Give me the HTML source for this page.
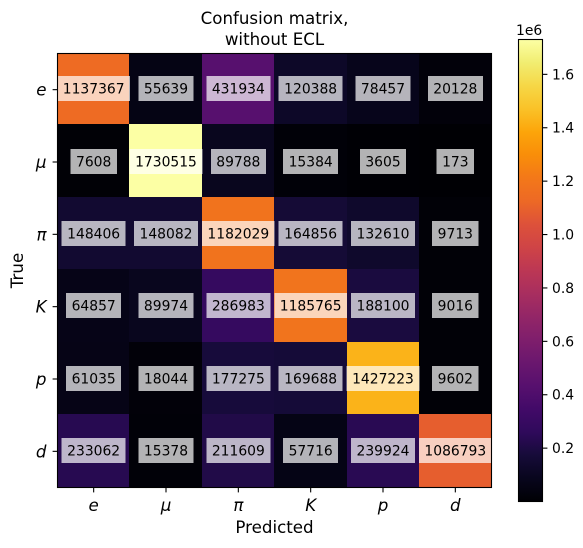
<!DOCTYPE html>
<html>
<head>
<meta charset="utf-8">
<style>
html,body{margin:0;padding:0;background:#fff;width:583px;height:548px;overflow:hidden}
svg{display:block}
text{font-family:"DejaVu Sans",sans-serif;fill:#000}
.it{font-style:italic}
</style>
</head>
<body>
<svg id="chart" xmlns="http://www.w3.org/2000/svg" width="583" height="548" viewBox="0 0 583 548">
  <text x="274.5" y="24" font-size="16.67" text-anchor="middle">Confusion matrix,</text>
  <text x="274.5" y="45" font-size="16.67" text-anchor="middle">without ECL</text>
  <text x="274.5" y="533" font-size="16.67" text-anchor="middle">Predicted</text>
  <text transform="translate(23,270.5) rotate(-90)" font-size="16.67" text-anchor="middle">True</text>
  <text x="516" y="35" font-size="13.89">1e6</text>
  <g id="cells"></g>
  <g id="labels"></g>
  <rect x="57.5" y="53.5" width="434" height="434" fill="none" stroke="#000" stroke-width="1.1"></rect>
  <g id="ticks"></g>
  <defs>
    <linearGradient id="cbarGrad" x1="0" y1="1" x2="0" y2="0"></linearGradient>
  </defs>
  <rect x="518.5" y="39.5" width="24" height="462" fill="url(#cbarGrad)" stroke="#000" stroke-width="1.1"></rect>
  <g id="cbarTicks"></g>
</svg>
<script>
const predictedCategories = ["e", "μ", "π", "K", "p", "d"];
const trueCategories = ["e", "μ", "π", "K", "p", "d"];
const rowE = [1137367, 55639, 431934, 120388, 78457, 20128];
const rowMu = [7608, 1730515, 89788, 15384, 3605, 173];
const rowPi = [148406, 148082, 1182029, 164856, 132610, 9713];
const rowK = [64857, 89974, 286983, 1185765, 188100, 9016];
const rowP = [61035, 18044, 177275, 169688, 1427223, 9602];
const rowD = [233062, 15378, 211609, 57716, 239924, 1086793];
const colorbarTicks = [0.2, 0.4, 0.6, 0.8, 1.0, 1.2, 1.4, 1.6];
const infernoColors = ["#000004", "#08061d", "#160b39", "#2f0a5b", "#420a68", "#57106e", "#6a176e", "#7f1e6c", "#932667", "#a82e5f", "#bc3754", "#cf4446", "#dd513a", "#ed6925", "#f37819", "#f98e09", "#fca50a", "#fac228", "#f6d746", "#f1ed71", "#fcffa4"];

const rows = [rowE, rowMu, rowPi, rowK, rowP, rowD];
const NS = "http://www.w3.org/2000/svg";
const all = rows.flat();
const vmin = Math.min(...all);
const vmax = Math.max(...all);
const axL = 57.5, axT = 53.5, axS = 434;
const cbT = 39.5, cbB = 501.5, cbR = 542.5;

function xCenter(i) { return axL + (i + 0.5) * axS / predictedCategories.length; }
function yCenter(i) { return axT + (i + 0.5) * axS / trueCategories.length; }
/* pixel-snapped cell boundaries, as produced by image resampling */
function xEdge(i) {
  const n = predictedCategories.length;
  if (i === 0) return Math.floor(axL);
  if (i === n) return Math.ceil(axL + axS);
  return Math.round(axL - 0.38 + i * (axS + 0.1) / n);
}
function yEdge(i) {
  const n = trueCategories.length;
  if (i === 0) return Math.floor(axT);
  if (i === n) return Math.ceil(axT + axS);
  return Math.round(axT - 1.38 + i * (axS + 0.1) / n);
}
function cbarY(v) { return cbB - (v * 1e6 - vmin) / (vmax - vmin) * (cbB - cbT); }
function hexToRgb(h) { return [1, 3, 5].map(function (p) { return parseInt(h.substr(p, 2), 16); }); }
function inferno(t) {
  t = Math.max(0, Math.min(1, t));
  const p = t * (infernoColors.length - 1);
  const i = Math.min(Math.floor(p), infernoColors.length - 2);
  const a = hexToRgb(infernoColors[i]);
  const b = hexToRgb(infernoColors[i + 1]);
  const f = p - i;
  return "rgb(" + a.map(function (c, k) { return Math.round(c + (b[k] - c) * f); }).join(",") + ")";
}
function make(tag, attrs, parent) {
  const el = document.createElementNS(NS, tag);
  Object.keys(attrs).forEach(function (k) { el.setAttribute(k, attrs[k]); });
  parent.appendChild(el);
  return el;
}

const cellsG = document.getElementById("cells");
const labelsG = document.getElementById("labels");
const ticksG = document.getElementById("ticks");
const cbarG = document.getElementById("cbarTicks");

rows.forEach(function (row, r) {
  row.forEach(function (val, c) {
    const cell = make("rect", {
      x: xEdge(c), y: yEdge(r),
      width: xEdge(c + 1) - xEdge(c),
      height: yEdge(r + 1) - yEdge(r),
      fill: inferno((val - vmin) / (vmax - vmin)),
      "shape-rendering": "crispEdges"
    }, cellsG);
    
    

    const top = Math.floor(yCenter(r) - 13);
    const box = make("rect", { y: top, height: 25, fill: "#fff", "fill-opacity": 0.7, "shape-rendering": "crispEdges" }, labelsG);
    
    

    const label = make("text", { x: xCenter(c), y: top + 17.3, "font-size": 13.89, "text-anchor": "middle" }, labelsG);
    
    
    label.textContent = String(val);

    const w = label.getComputedTextLength() + 11;
    box.setAttribute("x", xCenter(c) - w / 2);
    box.setAttribute("width", w);
  });
});

predictedCategories.forEach(function (name, i) {
  const tick = make("line", { x1: xCenter(i), x2: xCenter(i), y1: 487.5, y2: 492.4, stroke: "#000", "stroke-width": 1.1 }, ticksG);
  
  
  const label = make("text", { x: xCenter(i), y: 511, "font-size": 16.67, "text-anchor": "middle", class: "it" }, ticksG);
  
  
  label.textContent = name;
});

trueCategories.forEach(function (name, i) {
  const tick = make("line", { x1: 52.6, x2: 57.5, y1: yCenter(i), y2: yCenter(i), stroke: "#000", "stroke-width": 1.1 }, ticksG);
  
  
  const label = make("text", { x: 46.5, y: yCenter(i) + 6, "font-size": 16.67, "text-anchor": "end", class: "it" }, ticksG);
  
  
  label.textContent = name;
});

const grad = document.getElementById("cbarGrad");
infernoColors.forEach(function (col, i) {
  make("stop", { offset: i / (infernoColors.length - 1), "stop-color": col }, grad);
});

colorbarTicks.forEach(function (v) {
  const y = cbarY(v);
  const tick = make("line", { x1: cbR, x2: cbR + 4.9, y1: y, y2: y, stroke: "#000", "stroke-width": 1.1 }, cbarG);
  
  
  const label = make("text", { x: cbR + 9.5, y: y + 5, "font-size": 13.89 }, cbarG);
  
  
  label.textContent = v.toFixed(1);
});
</script>
</body>
</html>
